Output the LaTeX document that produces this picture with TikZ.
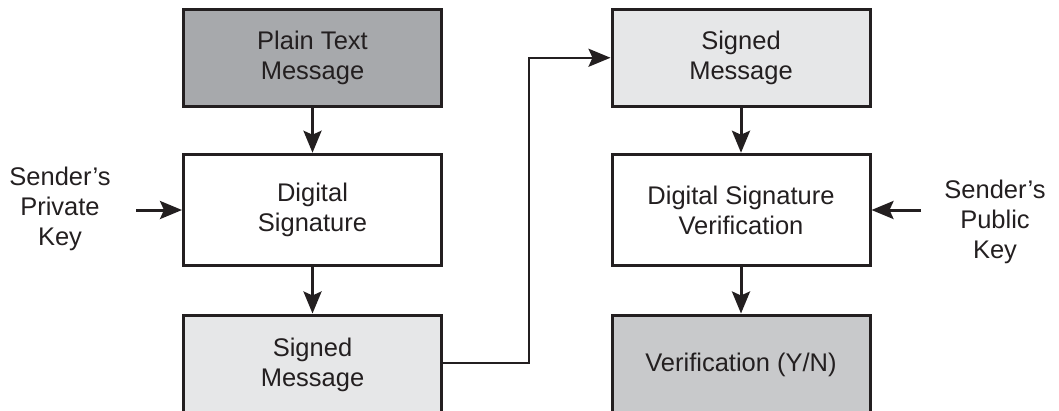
\documentclass[tikz,border=0pt]{standalone}
\usepackage{fontspec}
\setmainfont{Liberation Sans}
\usetikzlibrary{arrows.meta}
\definecolor{inkline}{HTML}{231F20}
\definecolor{darkfill}{HTML}{A7A9AC}
\definecolor{lightfill}{HTML}{E6E7E8}
\definecolor{midfill}{HTML}{C8C9CB}
\begin{document}
\begin{tikzpicture}[x=1pt,y=-1pt,
  box/.style={draw=inkline, line width=3pt, rectangle, inner sep=0pt,
    minimum width=258pt, align=center, text=inkline,
    font=\fontsize{25.5}{30}\selectfont},
  label/.style={align=center, text=inkline, inner sep=0pt,
    font=\fontsize{25.5}{30}\selectfont},
  flow/.style={draw=inkline, line width=3pt,
    -{Stealth[length=22pt,width=18pt,inset=4pt]}},
  link/.style={draw=inkline, line width=2.5pt,
    -{Stealth[length=22pt,width=18pt,inset=4pt]}}]
\useasboundingbox (0,0) rectangle (1059,410);

% signing side
\node[box, fill=darkfill, minimum height=96.5pt] (plain) at (312.5,57.75) {Plain Text\\Message};
\node[box, fill=white, minimum height=111.5pt] (sign) at (312.5,210) {Digital\\Signature};
\node[box, fill=lightfill, minimum height=100pt] (signedA) at (312.5,365) {\raisebox{2pt}{\begin{tabular}{@{}c@{}}Signed\\Message\end{tabular}}};
\node[label] (privkey) at (60,209) {Sender’s\\Private\\Key};
\coordinate (privtail) at (136,210);

% verifying side
\node[box, fill=lightfill, minimum height=96.5pt] (signedB) at (741,57.75) {Signed\\Message};
\node[box, fill=white, minimum height=111.5pt] (verify) at (741,210) {Digital Signature\\Verification};
\node[box, fill=midfill, minimum height=100pt] (result) at (741,365) {\raisebox{2pt}{Verification (Y/N)}};
\node[label] (pubkey) at (995,222) {Sender’s\\Public\\Key};
\coordinate (pubtail) at (921,210);

% connectors
\draw[flow] (plain) -- (sign);
\draw[flow] (sign) -- (signedA);
\draw[flow] (privtail) -- (sign.west);
\draw[link] ([yshift=2pt]signedA.east) -- ++(86,0) |- (signedB.west);
\draw[flow] (signedB) -- (verify);
\draw[flow] (verify) -- (result);
\draw[flow] (pubtail) -- (verify.east);
\end{tikzpicture}
\end{document}
